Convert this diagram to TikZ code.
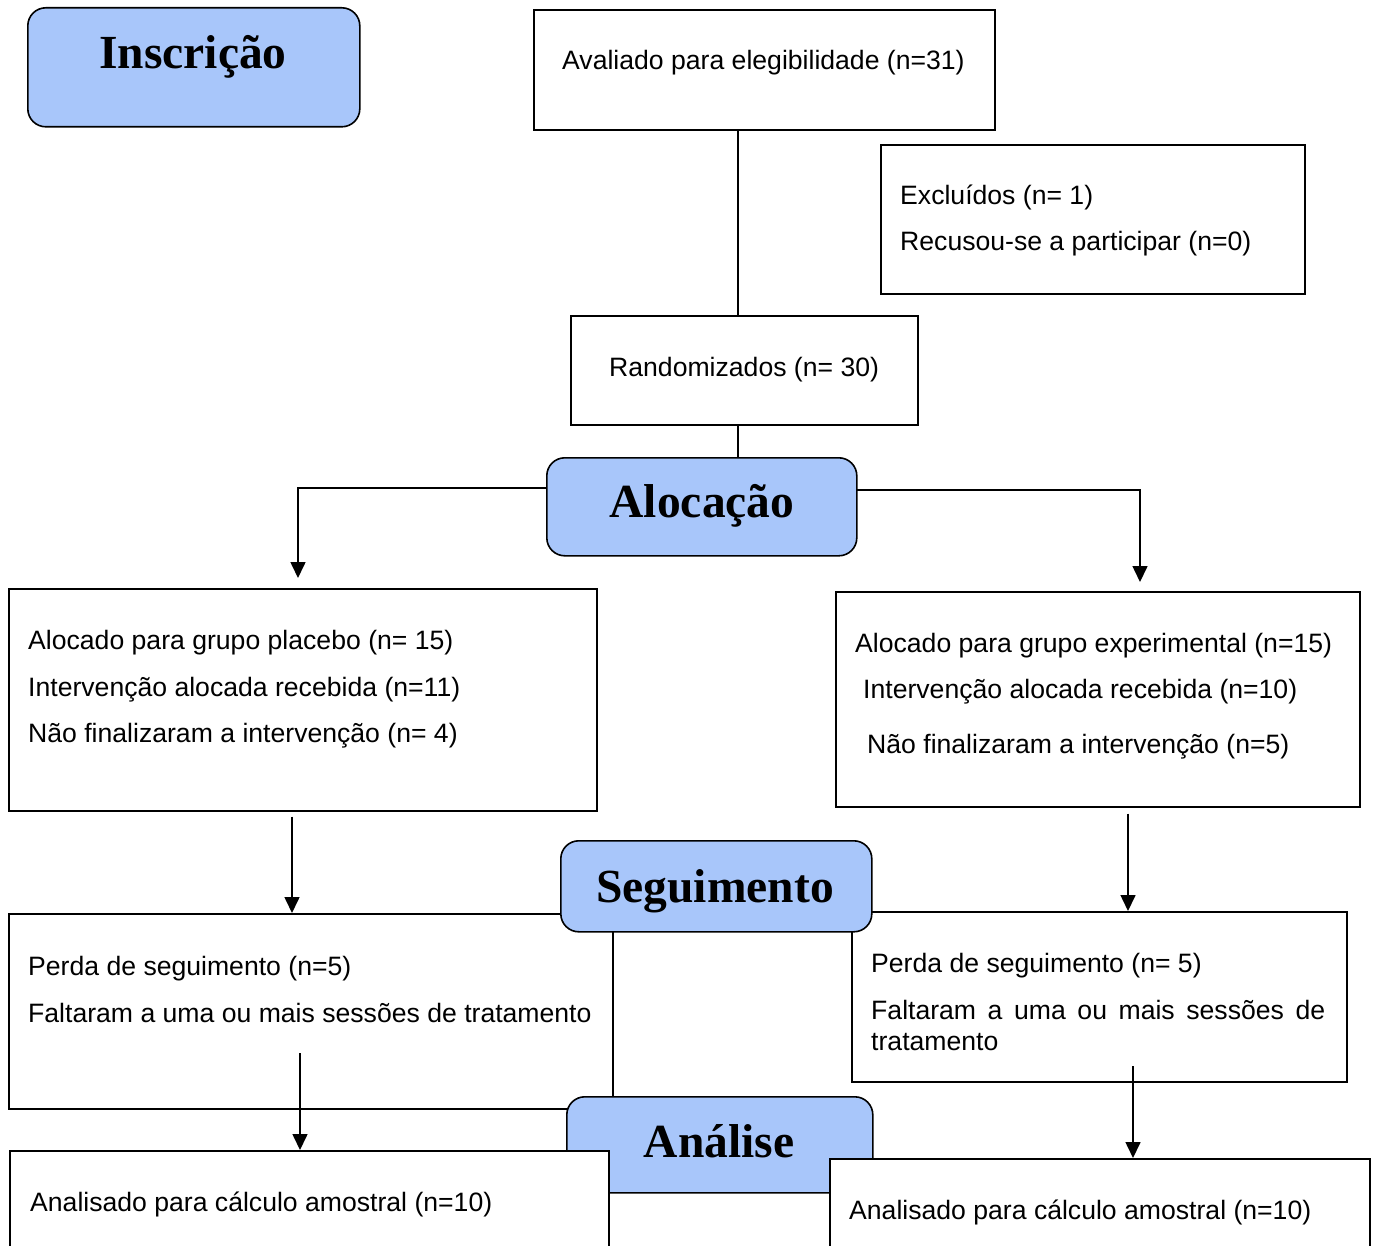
\documentclass[tikz,border=0pt]{standalone}
\usepackage{fontspec}
\setmainfont{Liberation Sans}
\newfontfamily\headfont{Liberation Serif}
\usetikzlibrary{arrows.meta}
\definecolor{hblue}{RGB}{168,198,250}
\begin{document}
\begin{tikzpicture}[x=1pt,y=-1pt,
  box/.style={draw, line width=1.6pt, inner sep=0pt, anchor=north west, fill=white},
  headbox/.style={draw, line width=1.6pt, rounded corners=18pt, fill=hblue, inner sep=0pt, anchor=north west},
  txt/.style={anchor=base west, inner sep=0pt, font=\fontsize{26.6}{32}\selectfont},
  head/.style={anchor=base, inner sep=0pt, font=\headfont\bfseries\fontsize{47.5}{50}\selectfont},
  conn/.style={line width=1.6pt},
  arr/.style={conn, -{Triangle[length=16pt,width=15pt]}}]
\useasboundingbox (0,0) rectangle (1375,1246);
\clip (0,0) rectangle (1375,1246);

% plain boxes
\node[box, minimum width=461pt, minimum height=120pt] (aval) at (533,9) {};
\node[box, minimum width=424pt, minimum height=149pt] (excl) at (880,144) {};
\node[box, minimum width=347pt, minimum height=109pt] (rand) at (570,315) {};
\node[box, minimum width=588pt, minimum height=222pt] (plac) at (8,588) {};
\node[box, minimum width=524pt, minimum height=215pt] (expe) at (835,591) {};
\node[box, minimum width=604pt, minimum height=195pt] (follL) at (8,913) {};
\node[box, minimum width=495pt, minimum height=170pt] (follR) at (851,911) {};

% connectors
\draw[conn] (aval.south -| 738,0) -- (rand.north -| 738,0);
\draw[conn] (rand.south -| 738,0) -- (738,457);
\draw[arr, shorten >=10pt] (546,488) -| (plac.north -| 298,0);
\draw[arr, shorten >=9pt] (856,490) -| (expe.north -| 1140,0);
\draw[arr, shorten <=5pt] (plac.south -| 292,0) -- (follL.north -| 292,0);
\draw[arr, shorten <=6pt] (expe.south -| 1128,0) -- (follR.north -| 1128,0);

% heading boxes
\node[headbox, minimum width=332pt, minimum height=119pt] (inscr) at (27,7) {};
\node[headbox, minimum width=310pt, minimum height=98pt] (aloc) at (546,457) {};
\node[headbox, minimum width=311pt, minimum height=91pt] (segu) at (560,840) {};
\node[headbox, minimum width=306pt, minimum height=96pt] (anal) at (566,1096) {};

% analysis boxes
\node[box, minimum width=599pt, minimum height=140pt] (anL) at (9,1150) {};
\node[box, minimum width=540pt, minimum height=140pt] (anR) at (829,1158) {};

\coordinate (flout) at (300,1053);
\coordinate (frout) at (1133,1066);
\draw[arr] (flout) -- (anL.north -| flout);
\draw[arr] (frout) -- (anR.north -| frout);

% headings
\node[head] (tinscr) at (193,69) {Inscrição};
\node[head] (taloc) at (702,517) {Alocação};
\node[head] (tsegu) at (715,902) {Seguimento};
\node[head] (tanal) at (719,1157) {Análise};

% texts
\node[txt] (t1) at (562,70) {Avaliado para elegibilidade (n=31)};
\node[txt] (t2) at (900,205) {Excluídos (n= 1)};
\node[txt] (t3) at (900,251) {Recusou-se a participar (n=0)};
\node[txt] (t4) at (609,376) {Randomizados (n= 30)};
\node[txt] (t5) at (28,649) {Alocado para grupo placebo (n= 15)};
\node[txt] (t6) at (28,696) {Intervenção alocada recebida (n=11)};
\node[txt] (t7) at (28,742) {Não finalizaram a intervenção (n= 4)};
\node[txt] (t8) at (855,652) {Alocado para grupo experimental (n=15)};
\node[txt] (t9) at (863,698) {Intervenção alocada recebida (n=10)};
\node[txt] (t10) at (867,753) {Não finalizaram a intervenção (n=5)};
\node[txt] (t11) at (28,975) {Perda de seguimento (n=5)};
\node[txt] (t12) at (28,1022) {Faltaram a uma ou mais sessões de tratamento};
\node[txt] (t13) at (871,972) {Perda de seguimento (n= 5)};
\node[txt] (t14) at (871,1019) {\makebox[454pt][s]{Faltaram a uma ou mais sessões de}};
\node[txt] (t15) at (871,1050) {tratamento};
\node[txt] (t16) at (30,1211) {Analisado para cálculo amostral (n=10)};
\node[txt] (t17) at (849,1219) {Analisado para cálculo amostral (n=10)};
\end{tikzpicture}
\end{document}
